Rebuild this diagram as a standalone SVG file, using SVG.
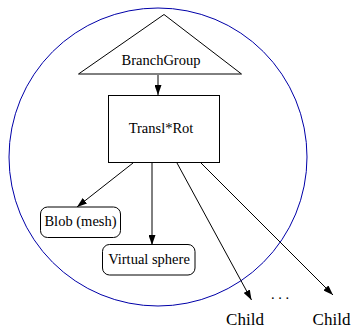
<svg xmlns="http://www.w3.org/2000/svg" width="351" height="331" viewBox="0 0 351 331">
<style>
.n{fill:#fff;stroke:#000;stroke-width:1}
.t{font-size:14.5px;fill:#000}
.c{font-size:17px;fill:#000}
.e{stroke:#000;stroke-width:1;fill:none;marker-end:url(#ah)}
</style>
<defs>
<marker id="ah" markerWidth="10" markerHeight="7" refX="10" refY="3.5" orient="auto" markerUnits="userSpaceOnUse">
<path d="M0,0 L10,3.5 L0,7 Z" fill="#000"/>
</marker>
</defs>
<rect width="351" height="331" fill="#fff"/>
<circle cx="158" cy="157" r="149" fill="none" stroke="#0000a8" stroke-width="1"/>
<g id="connectors">
<line class="e" x1="158" y1="75" x2="158" y2="95"/>
<line class="e" x1="133" y1="163" x2="77" y2="207"/>
<line class="e" x1="152" y1="163" x2="152" y2="245"/>
<line class="e" x1="177" y1="163" x2="251.5" y2="300"/>
<line class="e" x1="201" y1="163" x2="333" y2="295"/>
</g>
<g font-family="Liberation Serif, Times New Roman, serif">
<g id="branchgroup">
<polygon class="n" points="164,14.5 78.5,74 241.5,74"/>
<text class="t" x="161" y="65" text-anchor="middle">BranchGroup</text>
</g>
<g id="translrot">
<rect class="n" x="108.5" y="95.5" width="111" height="67"/>
<text class="t" x="161" y="133" text-anchor="middle">Transl*Rot</text>
</g>
<g id="blob">
<rect class="n" x="40.5" y="207" width="80" height="30.5" rx="7"/>
<text class="t" x="80.5" y="226" text-anchor="middle">Blob (mesh)</text>
</g>
<g id="vsphere">
<rect class="n" x="102.5" y="244.5" width="92.5" height="30.5" rx="7"/>
<text class="t" x="149" y="263.5" text-anchor="middle">Virtual sphere</text>
</g>
<g id="child1">
<text class="c" x="245" y="325" text-anchor="middle">Child</text>
</g>
<g id="dots">
<text class="t" x="280" y="299" text-anchor="middle">. . .</text>
</g>
<g id="child2">
<text class="c" x="331.5" y="325" text-anchor="middle">Child</text>
</g>
</g>
</svg>
